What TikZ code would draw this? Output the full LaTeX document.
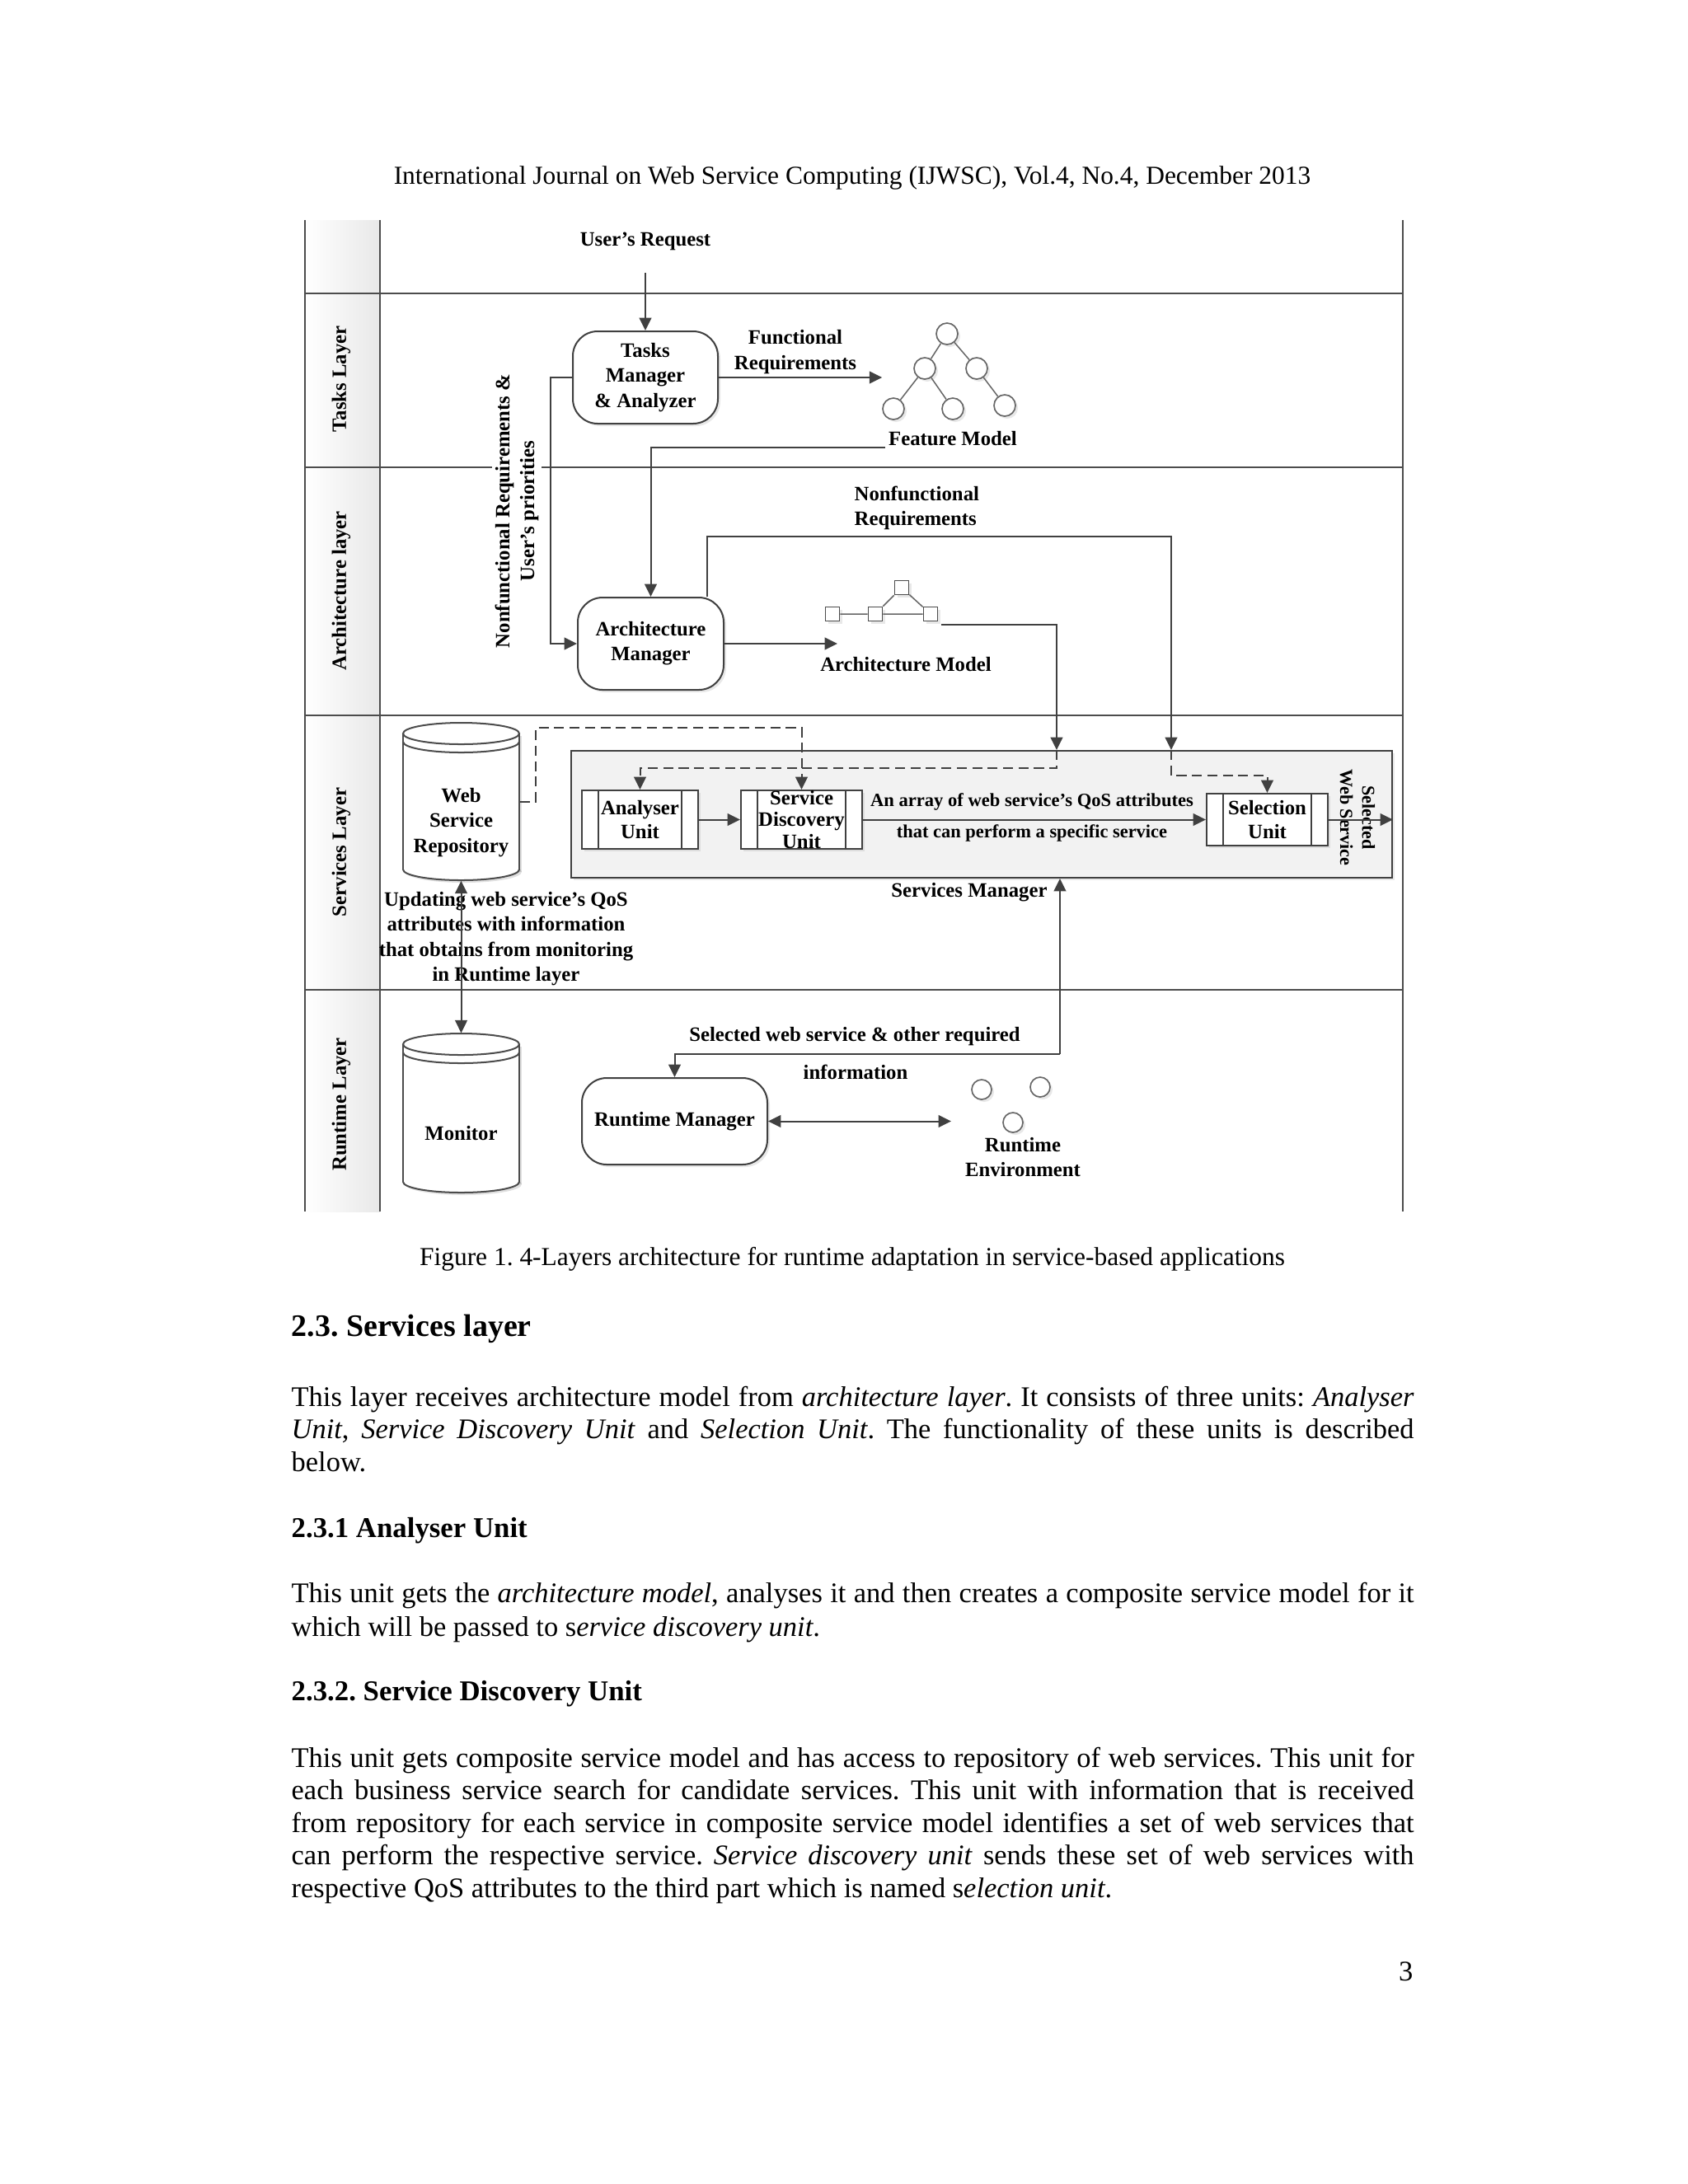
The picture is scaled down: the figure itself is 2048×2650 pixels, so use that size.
\documentclass[tikz,border=0pt]{standalone}
\usepackage{fontspec}
\setmainfont{Liberation Serif}
\usetikzlibrary{arrows.meta,shadows,calc}
\def\PX{0.29883pt}
\newcommand\DrawCyl[3]{%
  \fill[black,opacity=0.12] (#1-67.5,#2+3) rectangle (#1+73.5,#3+3);
  \fill[black,opacity=0.12] (#1+3,#3+3) ellipse[x radius=70.5,y radius=13];
  \fill[white] (#1-70.5,#2) rectangle (#1+70.5,#3);
  \fill[white] (#1,#3) ellipse[x radius=70.5,y radius=13];
  \begin{scope}
    \clip (#1-80,#3) rectangle (#1+80,#3+20);
    \draw[cyl] (#1,#3) ellipse[x radius=70.5,y radius=13];
  \end{scope}
  \draw[cyl] (#1-70.5,#2) -- (#1-70.5,#3) (#1+70.5,#2) -- (#1+70.5,#3);
  \filldraw[cyl,fill=white] (#1,#2) ellipse[x radius=70.5,y radius=13];
  \begin{scope}
    \clip (#1-80,#2+10) rectangle (#1+80,#2+30);
    \draw[cyl] (#1,#2+10) ellipse[x radius=70.5,y radius=13];
  \end{scope}}
\begin{document}
\frenchspacing
\begin{tikzpicture}[x=0.29883pt,y=-0.29883pt,
  dg/.style={font=\fontsize{7.4}{9}\selectfont\bfseries, inner sep=1pt},
  conn/.style={draw=black!75, line width=0.6pt},
  lane/.style={draw=black!70, line width=0.6pt},
  cyl/.style={draw=black!70, line width=0.6pt},
  arr/.style={conn, -{Triangle[length=4.6pt,width=4.4pt]}},
  darr/.style={conn, {Triangle[length=4.6pt,width=4.4pt]}-{Triangle[length=4.6pt,width=4.4pt]}},
  dsh/.style={dash pattern=on 3.6pt off 2pt},
  shd/.style={drop shadow={opacity=0.18, shadow xshift=0.9pt, shadow yshift=-0.9pt}},
  rbox/.style={dg, draw=black!75, line width=0.6pt, fill=white, rounded corners=9pt, shd, align=center, inner sep=0pt},
  ubox/.style={dg, draw=black!75, line width=0.6pt, fill=white, shd, align=center, inner sep=0pt,
    font=\fontsize{7.4}{8.4}\selectfont\bfseries,
    path picture={\draw[black!75, line width=0.6pt]
      ([xshift=6pt]path picture bounding box.north west) -- ([xshift=6pt]path picture bounding box.south west)
      ([xshift=-6pt]path picture bounding box.north east) -- ([xshift=-6pt]path picture bounding box.south east);}},
  fmc/.style={circle, draw=black!60, line width=0.5pt, minimum size=26*\PX, inner sep=0pt, fill=white, shd},
  ec/.style={circle, draw=black!60, line width=0.5pt, minimum size=24*\PX, inner sep=0pt, fill=white, shd},
  sq/.style={draw=black!70, line width=0.5pt, fill=white, minimum size=17*\PX, inner sep=0pt, shd},
  thinl/.style={draw=black!60, line width=0.45pt},
  hf/.style={font=\fontsize{9.4}{11.86}\selectfont, inner sep=0pt, anchor=base},
  bt/.style={font=\fontsize{10.3}{11.86}\selectfont, inner sep=0pt, anchor=base west}]
\useasboundingbox (0,0) rectangle (2048,2650);
\fill[white] (0,0) rectangle (2048,2650);

% ---------- lanes ----------
\shade[left color=white, right color=black!9] (370,267) rectangle (461,1470);
\draw[lane] (370,267) -- (370,1470);
\draw[lane] (461,267) -- (461,1470);
\draw[lane] (1702,267) -- (1702,1470);
\foreach \yy in {356,567,868,1201} \draw[lane] (370,\yy) -- (1702,\yy);
\node[dg, rotate=90] (lt) at (414,460) {Tasks Layer};
\node[dg, rotate=90] (la) at (414,717) {Architecture layer};
\node[dg, rotate=90] (ls) at (414,1034) {Services Layer};
\node[dg, rotate=90] (lr) at (414,1340) {Runtime Layer};

% ---------- tasks layer ----------
\node[dg] (ur) at (783,293) {User’s Request};
\node[rbox, minimum width=176*\PX, minimum height=112*\PX] (tm) at (783,458) {Tasks\\Manager\\\& Analyzer};
\node[dg, align=center] (frl) at (965,427) {Functional\\Requirements};
\node[fmc] (f1) at (1149,405) {};
\node[fmc] (f2) at (1122,447) {};
\node[fmc] (f3) at (1185,447) {};
\node[fmc] (f4) at (1084,496) {};
\node[fmc] (f5) at (1156,496) {};
\node[fmc] (f6) at (1219,492) {};
\draw[thinl] (f1) -- (f2) (f1) -- (f3) (f2) -- (f4) (f2) -- (f5) (f3) -- (f6);
\node[dg] (fml) at (1156,532) {Feature Model};
\node[dg, rotate=90, align=center, fill=white] (nfr) at (627,620) {Nonfunctional Requirements \&\\User’s priorities};

% ---------- architecture layer ----------
\node[rbox, minimum width=177*\PX, minimum height=112*\PX] (am) at (789.5,781) {Architecture\\Manager};
\node[dg, align=left, anchor=west, inner sep=0pt] (nfl) at (1036,616.5) {Nonfunctional\\Requirements};
\node[sq] (a1) at (1010,745) {};
\node[sq] (a2) at (1062,745) {};
\node[sq] (a3) at (1094,713) {};
\node[sq] (a4) at (1129,745) {};
\draw[thinl] (a1) -- (a2) (a2) -- (a4) (a2) -- (a3) (a3) -- (a4);
\node[dg] (aml) at (1099,806) {Architecture Model};
\coordinate (amto) at (1016,781);
\coordinate (nfT) at (1421,651);
\coordinate (amT) at (1282,757);

% ---------- services layer ----------
\node[draw=black!75, line width=0.6pt, fill=black!5, minimum width=996*\PX, minimum height=154*\PX, inner sep=0pt, shd] (sm) at (1191,988) {};
\node[dg] (sml) at (1176,1083) {Services Manager};
\node[ubox, minimum width=141*\PX, minimum height=71*\PX] (an) at (776.5,994.5) {Analyser\\Unit};
\node[ubox, minimum width=147*\PX, minimum height=71*\PX, font=\fontsize{7.4}{8}\selectfont\bfseries] (sdu) at (972.5,994.5) {Service\\Discovery\\Unit};
\node[ubox, minimum width=147*\PX, minimum height=63*\PX] (sel) at (1537.5,994.5) {Selection\\Unit};
\node[dg, font=\fontsize{6.75}{8}\selectfont\bfseries] (q1) at (1252,973) {An array of web service’s QoS attributes};
\node[dg, font=\fontsize{6.7}{8}\selectfont\bfseries] (q2) at (1252,1011) {that can perform a specific service};
\node[dg, rotate=-90, align=center, font=\fontsize{6.6}{8}\selectfont\bfseries] (sws) at (1647,992) {Selected\\Web Service};

\DrawCyl{559.5}{890}{1055}
\node[minimum width=141*\PX, minimum height=191*\PX, inner sep=0pt] (repo) at (559.5,972.5) {};
\node[dg, align=center] (repot) at (559.5,998) {Web\\Service\\Repository};
\node[dg, align=center] (upl) at (614,1139) {Updating web service’s QoS\\attributes with information\\that obtains from monitoring\\in Runtime layer};
\coordinate (rpT) at (650,883);

% ---------- runtime layer ----------
\DrawCyl{559.5}{1267}{1434}
\node[minimum width=141*\PX, minimum height=193*\PX, inner sep=0pt] (mon) at (559.5,1350.5) {};
\node[dg] (mont) at (559.5,1375) {Monitor};
\node[rbox, minimum width=225*\PX, minimum height=105*\PX] (rm) at (818.5,1360.5) {Runtime Manager};
\node[dg] (swl) at (1037,1258) {Selected web service \& other required};
\node[dg] (infl) at (1038,1301) {information};
\node[ec] (e1) at (1191,1322) {};
\node[ec] (e2) at (1262,1319) {};
\node[ec] (e3) at (1229,1362) {};
\node[dg, align=center] (envl) at (1241,1404) {Runtime\\Environment};
\coordinate (envin) at (1154,1362);
\coordinate (rmT) at (1286,1279);

% ---------- connectors ----------
\draw[arr, shorten <=7pt] (ur.south) -- (tm.north);
\draw[arr] (tm.east) -- (tm.east -| f4.west);
\draw[arr] ([yshift=-3.3pt]fml.west) -| (am.north);
\draw[arr] (tm.west) -- ++(-26,0) |- (am.west);
\draw[arr] (am.east) -- (amto);
\draw[arr] ([xshift=20.5pt]am.north) |- (nfT) -- (nfT |- sm.north);
\draw[arr] ([xshift=1pt,yshift=-1pt]a4.south east) -| (amT |- sm.north);
\draw[arr, dsh] (amT |- sm.north) -- ++(0,22) -| (an.north);
\draw[arr, dsh] (nfT |- sm.north) -- ++(0,31) -| (sel.north);
\draw[arr, dsh] (repo.east) -| (rpT) -| (sdu.north);
\draw[arr] (an.east) -- (sdu.west);
\draw[arr] (sdu.east) -- (sel.west);
\draw[arr] (sel.east) -- (sel.east -| sm.east);
\draw[darr] (repo.south) -- (mon.north);
\draw[arr] (rmT) -- (rmT |- sm.south);
\draw[arr] (rmT) -| (rm.north);
\draw[darr] (rm.east) -- (rm.east -| envin);

% ---------- page text ----------
\node[hf] (hdr) at (1034,223) {International Journal on Web Service Computing (IJWSC), Vol.4, No.4, December 2013};
\node[hf] (cap) at (1034,1535) {Figure 1. 4-Layers architecture for runtime adaptation in service-based applications};
\node[bt, font=\fontsize{11.35}{13}\selectfont\bfseries] (h23) at (353,1621) {2.3. Services layer};
\node[bt] (p1a) at (353,1706) {\makebox[407pt][s]{This layer receives architecture model from \textit{architecture layer}. It consists of three units: \textit{Analyser}}};
\node[bt] (p1b) at (353,1745) {\makebox[407pt][s]{\textit{Unit}, \textit{Service Discovery Unit} and \textit{Selection Unit}. The functionality of these units is described}};
\node[bt] (p1c) at (353,1785) {below.};
\node[bt, font=\fontsize{10.4}{12}\selectfont\bfseries] (h231) at (353,1865) {2.3.1 Analyser Unit};
\node[bt] (p2a) at (353,1944) {\makebox[407pt][s]{This unit gets the \textit{architecture model}, analyses it and then creates a composite service model for it}};
\node[bt] (p2b) at (353,1985) {which will be passed to s\textit{ervice discovery unit}.};
\node[bt, font=\fontsize{10.4}{12}\selectfont\bfseries] (h232) at (353,2063) {2.3.2. Service Discovery Unit};
\node[bt] (p3a) at (353,2144) {\makebox[407pt][s]{This unit gets composite service model and has access to repository of web services. This unit for}};
\node[bt] (p3b) at (353,2183) {\makebox[407pt][s]{each business service search for candidate services. This unit with information that is received}};
\node[bt] (p3c) at (353,2223) {\makebox[407pt][s]{from repository for each service in composite service model identifies a set of web services that}};
\node[bt] (p3d) at (353,2262) {\makebox[407pt][s]{can perform the respective service. \textit{Service discovery unit} sends these set of web services with}};
\node[bt] (p3e) at (353,2302) {respective QoS attributes to the third part which is named s\textit{election unit}.};
\node[bt, anchor=base east] (pg) at (1715,2403) {3};
\end{tikzpicture}
\end{document}
